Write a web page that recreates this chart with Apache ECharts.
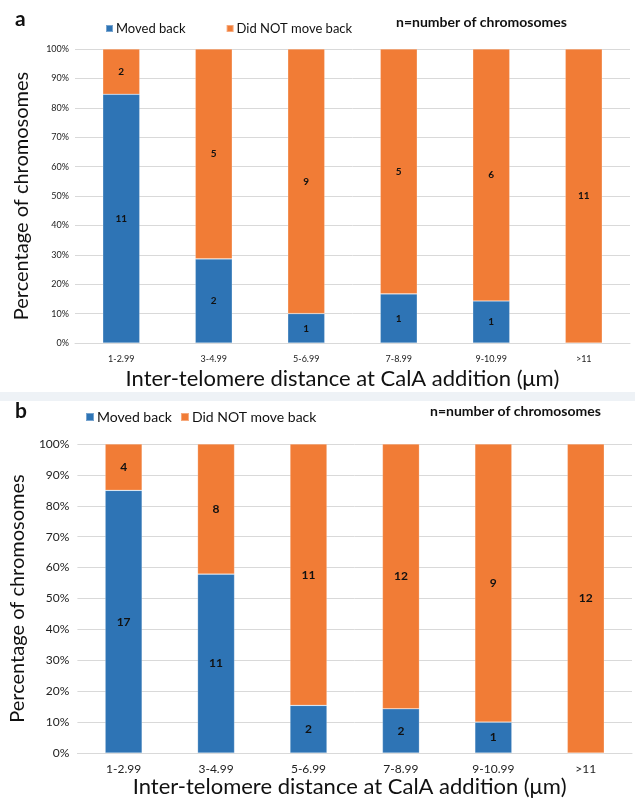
<!DOCTYPE html>
<html>
<head>
<meta charset="utf-8">
<script src="https://cdn.jsdelivr.net/npm/echarts@6/dist/echarts.min.js"></script>
<style>
  html, body { margin: 0; padding: 0; background: #ffffff; }
  #chart { width: 635px; height: 802px; }
</style>
</head>
<body>
<div id="chart"></div>
<script>
// Inter-telomere distance bins (µm)
const categories = ['1-2.99', '3-4.99', '5-6.99', '7-8.99', '9-10.99', '>11'];

// Panel a: percentage of chromosomes and counts per bin
const movedPctA = [84.6, 28.6, 10.0, 16.7, 14.3, 0];
const notMovedPctA = [15.4, 71.4, 90.0, 83.3, 85.7, 100];
const movedCountA = [11, 2, 1, 1, 1, 0];
const notMovedCountA = [2, 5, 9, 5, 6, 11];

// Panel b: percentage of chromosomes and counts per bin
const movedPctB = [85.0, 57.9, 15.4, 14.3, 10.0, 0];
const notMovedPctB = [15.0, 42.1, 84.6, 85.7, 90.0, 100];
const movedCountB = [17, 11, 2, 2, 1, 0];
const notMovedCountB = [4, 8, 11, 12, 9, 12];

const seriesNames = ['Moved back', 'Did NOT move back'];
const FONT = 'Lato, "Open Sans", "Liberation Sans", sans-serif';
const BLUE = '#2e74b5';
const ORANGE = '#f17c36';
const GRID_LINE = '#d9d9d9';

const chart = echarts.init(document.getElementById('chart'), null, { renderer: 'canvas' });

function countLabel(counts, size) {
  return {
    show: true,
    position: 'inside',
    color: '#111',
    fontFamily: FONT,
    fontWeight: 'bold',
    fontSize: size,
    formatter: p => (counts[p.dataIndex] > 0 ? String(counts[p.dataIndex]) : '')
  };
}

function xAxisFor(gridIndex, labelSize, nameSize, margin, nameGap, shiftLeft) {
  return {
    type: 'category',
    gridIndex: gridIndex,
    data: categories,
    axisTick: { show: false },
    axisLine: { show: true, lineStyle: { color: GRID_LINE, width: 1 } },
    axisLabel: { color: '#222', fontFamily: FONT, fontSize: labelSize, margin: margin },
    name: 'Inter-telomere distance at CalA addition (\u03bcm)',
    nameLocation: 'middle',
    nameGap: nameGap,
    nameTextStyle: { color: '#111', fontFamily: FONT, fontSize: nameSize, padding: [0, shiftLeft * 2, 0, 0] }
  };
}

function yAxisFor(gridIndex, labelSize, nameSize, margin, nameGap) {
  return {
    type: 'value',
    gridIndex: gridIndex,
    min: 0,
    max: 100,
    interval: 10,
    axisLine: { show: false },
    axisTick: { show: false },
    splitLine: { show: true, lineStyle: { color: GRID_LINE, width: 1 } },
    axisLabel: { formatter: '{value}%', color: '#222', fontFamily: FONT, fontSize: labelSize, margin: margin },
    name: 'Percentage of chromosomes',
    nameLocation: 'middle',
    nameRotate: 90,
    nameGap: nameGap,
    nameTextStyle: { color: '#111', fontFamily: FONT, fontSize: nameSize }
  };
}

function bar(name, data, axisIndex, stack, color, label) {
  return {
    name: name,
    type: 'bar',
    stack: stack,
    xAxisIndex: axisIndex,
    yAxisIndex: axisIndex,
    data: data,
    barWidth: '40%',
    itemStyle: { color: color, borderColor: 'rgba(255,255,255,0.35)', borderWidth: 0.6 },
    label: label,
    emphasis: { disabled: true }
  };
}

const option = {
  backgroundColor: '#ffffff',
  animation: false,
  textStyle: { fontFamily: FONT },
  title: [
    { text: 'a', left: 10, top: 4, textStyle: { fontFamily: FONT, fontWeight: 'bold', fontSize: 21, color: '#111' } },
    { text: 'b', left: 10, top: 396, textStyle: { fontFamily: FONT, fontWeight: 'bold', fontSize: 21, color: '#111' } }
  ],
  legend: [
    {
      data: seriesNames,
      left: 100, top: 17,
      icon: 'rect', itemWidth: 7, itemHeight: 7, itemGap: 40,
      selectedMode: false,
      textStyle: { fontFamily: FONT, fontSize: 13, color: '#111', padding: [0, 0, 0, -2] }
    },
    {
      data: seriesNames,
      left: 80, top: 405,
      icon: 'rect', itemWidth: 8, itemHeight: 8, itemGap: 8,
      selectedMode: false,
      textStyle: { fontFamily: FONT, fontSize: 14, color: '#111', padding: [0, 0, 0, -2] }
    }
  ],
  graphic: [
    { type: 'rect', left: 0, top: 392, shape: { width: 635, height: 9 }, style: { fill: '#eef2f6' }, silent: true },
    { type: 'text', left: 396, top: 15, style: { text: 'n=number of chromosomes', font: 'bold 14px ' + FONT, fill: '#111' } },
    { type: 'text', left: 430, top: 404, style: { text: 'n=number of chromosomes', font: 'bold 14px ' + FONT, fill: '#111' } }
  ],
  grid: [
    { left: 75, right: 5, top: 49, height: 294 },
    { left: 76, right: 3, top: 444, height: 309 }
  ],
  xAxis: [
    xAxisFor(0, 9, 22, 12, 25, 10),
    xAxisFor(1, 12, 22, 10, 22, 5)
  ],
  yAxis: [
    yAxisFor(0, 9, 20, 6, 43),
    yAxisFor(1, 12, 20, 8, 43)
  ],
  series: [
    bar(seriesNames[0], movedPctA, 0, 'a', BLUE, countLabel(movedCountA, 10)),
    bar(seriesNames[1], notMovedPctA, 0, 'a', ORANGE, countLabel(notMovedCountA, 10)),
    bar(seriesNames[0], movedPctB, 1, 'b', BLUE, countLabel(movedCountB, 12)),
    bar(seriesNames[1], notMovedPctB, 1, 'b', ORANGE, countLabel(notMovedCountB, 12))
  ]
};

chart.setOption(option);
</script>
</body>
</html>
